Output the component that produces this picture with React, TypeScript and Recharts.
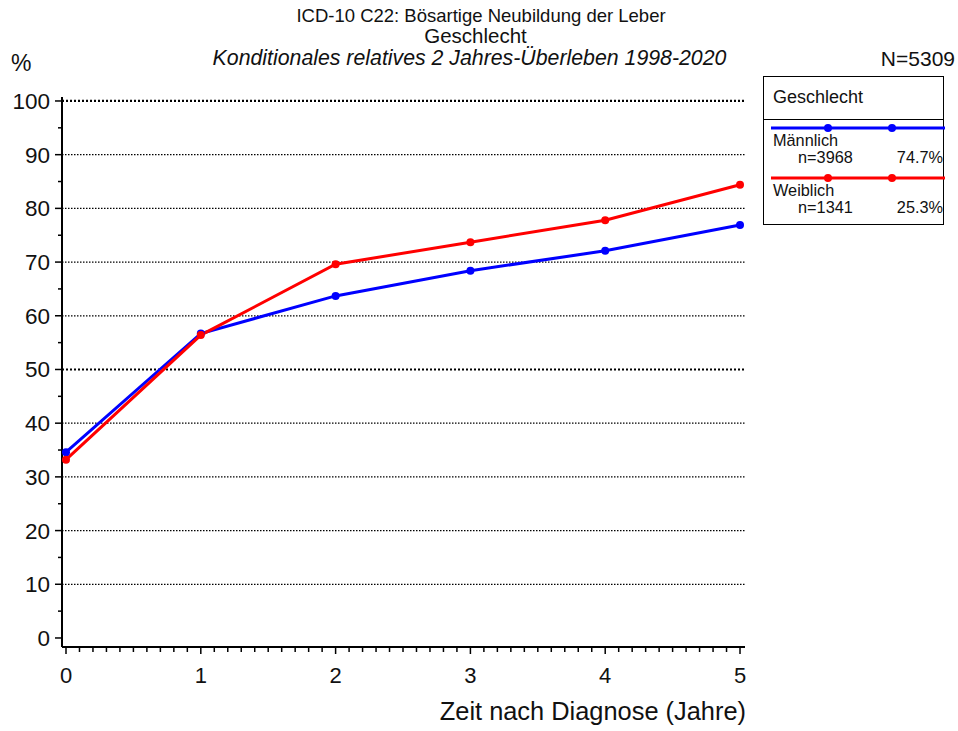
import { LineChart, Line, XAxis, YAxis, ReferenceLine } from "recharts";

const years = [0, 1, 2, 3, 4, 5];
const maennlich = [34.6, 56.7, 63.7, 68.4, 72.1, 76.9];
const weiblich = [33.2, 56.4, 69.6, 73.7, 77.8, 84.4];

const groups = ["Männlich", "Weiblich"];
const counts = [3968, 1341];
const shares = ["74.7%", "25.3%"];
const colors = ["#0000ff", "#ff0000"];

const gridLevels = [10, 20, 30, 40, 50, 60, 70, 80, 90, 100];
const yTicks = [0, 5, 10, 15, 20, 25, 30, 35, 40, 45, 50, 55, 60, 65, 70, 75, 80, 85, 90, 95, 100];
// minor ticks every 0.1 year on the time axis
const xTicks = Array.from({ length: 51 }, (_, i) => i / 10);

const data = years.map((t, i) => ({ t, m: maennlich[i], w: weiblich[i] }));

const font = "'Liberation Sans', Arial, sans-serif";

const XTick = (props: any) => {
  const { x, y, payload } = props;
  const v = payload.value;
  const major = Math.abs(v - Math.round(v)) < 1e-6;
  return (
    <g>
      <line x1={x} y1={y} x2={x} y2={y + (major ? 7 : 5)} stroke="#000" strokeWidth={1.5} />
      {major && (
        <text x={x} y={y + 36} textAnchor="middle" fontSize={22} fontFamily={font} fill="#111">
          {Math.round(v)}
        </text>
      )}
    </g>
  );
};

const YTick = (props: any) => {
  const { x, y, payload } = props;
  const v = payload.value;
  const major = v % 10 === 0;
  return (
    <g>
      <line x1={x} y1={y} x2={x - (major ? 7 : 4)} y2={y} stroke="#000" strokeWidth={1.5} />
      {major && (
        <text x={x - 12} y={y + 8} textAnchor="end" fontSize={22.5} fontFamily={font} fill="#111">
          {v}
        </text>
      )}
    </g>
  );
};

const abs = (left: number, top: number, extra: any = {}) => ({
  position: "absolute" as const,
  left,
  top,
  fontFamily: font,
  color: "#111",
  whiteSpace: "nowrap" as const,
  lineHeight: 1,
  ...extra,
});

export default function App() {
  return (
    <div style={{ position: "absolute", left: 0, top: 0, width: 958, height: 731, background: "#fff" }}>
      <div style={abs(0, 7, { width: 962, textAlign: "center", fontSize: 18.5 })}>
        ICD-10 C22: Bösartige Neubildung der Leber
      </div>
      <div style={abs(0, 26, { width: 951, textAlign: "center", fontSize: 20.5 })}>Geschlecht</div>
      <div style={abs(0, 48, { width: 939, textAlign: "center", fontSize: 21.3, fontStyle: "italic" })}>
        Konditionales relatives 2 Jahres-Überleben 1998-2020
      </div>
      <div style={abs(11, 52, { fontSize: 23 })}>%</div>
      <div style={abs(0, 48, { width: 955, textAlign: "right", fontSize: 21 })}>N=5309</div>
      <div style={abs(0, 699, { width: 746, textAlign: "right", fontSize: 25.4 })}>
        Zeit nach Diagnose (Jahre)
      </div>

      <LineChart
        width={958}
        height={731}
        data={data}
        margin={{ top: 97, right: 213, left: 22, bottom: 44 }}
        style={{ position: "absolute", left: 0, top: 0 }}
      >
        <XAxis
          dataKey="t"
          type="number"
          domain={[-0.0297, 5.037]}
          ticks={xTicks}
          interval={0}
          height={40}
          tickSize={0}
          tickMargin={0}
          tick={<XTick />}
          axisLine={{ stroke: "#000", strokeWidth: 2 }}
          tickLine={false}
          allowDataOverflow
        />
        <YAxis
          type="number"
          domain={[-1.68, 100.74]}
          ticks={yTicks}
          interval={0}
          width={40}
          tickSize={0}
          tickMargin={0}
          tick={<YTick />}
          axisLine={{ stroke: "#000", strokeWidth: 2 }}
          tickLine={false}
          allowDataOverflow
        />
        {gridLevels.map((g) => (
          <ReferenceLine
            key={g}
            y={g}
            stroke="#000"
            strokeWidth={g % 50 === 0 ? 2.2 : 1.3}
            strokeDasharray={g % 50 === 0 ? "2 2" : "1.5 1.5"}
          />
        ))}
        <Line
          dataKey="m"
          stroke={colors[0]}
          strokeWidth={3}
          dot={{ r: 4, fill: colors[0], stroke: colors[0], strokeWidth: 0 }}
          isAnimationActive={false}
        />
        <Line
          dataKey="w"
          stroke={colors[1]}
          strokeWidth={3}
          dot={{ r: 4, fill: colors[1], stroke: colors[1], strokeWidth: 0 }}
          isAnimationActive={false}
        />
      </LineChart>

      <div
        style={abs(763, 76, {
          width: 181,
          height: 149,
          border: "1.5px solid #000",
          boxSizing: "border-box",
          background: "#fff",
        })}
      >
        <div style={{ height: 42, borderBottom: "1.5px solid #000", fontSize: 18, paddingLeft: 9, lineHeight: "40px" }}>
          Geschlecht
        </div>
        {groups.map((g, i) => (
          <div key={g} style={{ position: "relative", height: 50 }}>
            <svg width={181} height={12} style={{ position: "absolute", left: 0, top: 2 }}>
              <line x1={7} y1={6} x2={181} y2={6} stroke={colors[i]} strokeWidth={3} />
              <circle cx={64} cy={6} r={4} fill={colors[i]} />
              <circle cx={128} cy={6} r={4} fill={colors[i]} />
            </svg>
            <div style={{ position: "absolute", left: 9, top: 12, fontSize: 16.3 }}>{g}</div>
            <div style={{ position: "absolute", left: 34, top: 28.5, fontSize: 16.3 }}>n={counts[i]}</div>
            <div style={{ position: "absolute", right: 0, top: 28.5, fontSize: 16.3 }}>{shares[i]}</div>
          </div>
        ))}
      </div>
    </div>
  );
}
